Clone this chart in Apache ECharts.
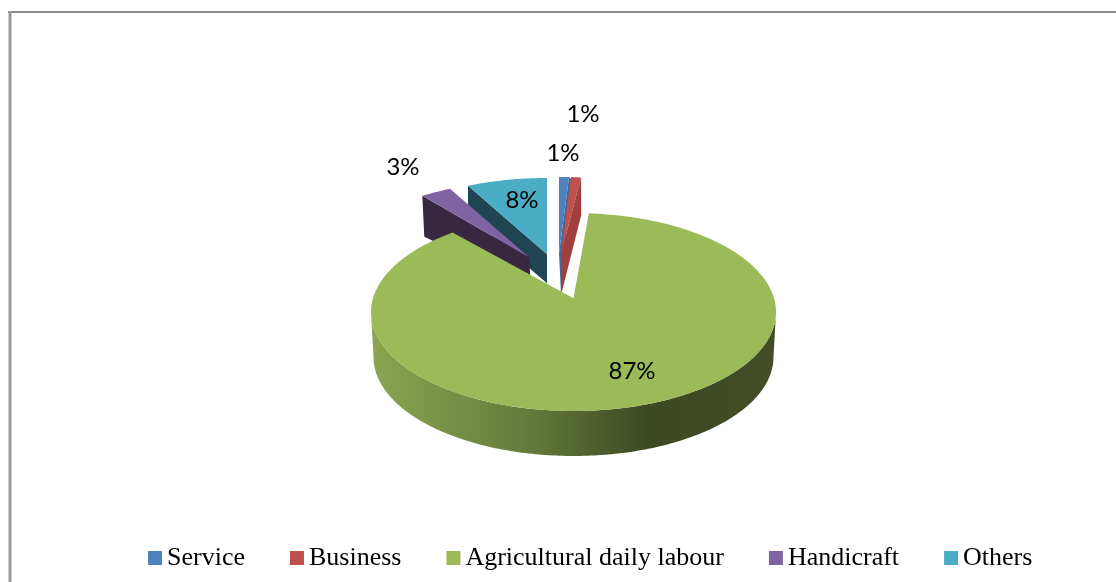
<!DOCTYPE html>
<html>
<head>
<meta charset="utf-8">
<style>html,body{margin:0;padding:0;background:#fff}#chart{width:1116px;height:582px}</style>
<script src="https://cdn.jsdelivr.net/npm/echarts@6/dist/echarts.min.js"></script>
</head>
<body>
<div id="chart"></div>
<script>
// Occupation shares, in percent
const categories = ['Service', 'Business', 'Agricultural daily labour', 'Handicraft', 'Others'];
const shares = [1, 1, 87, 3, 8];
const colors = ['#4f81bd', '#c0504d', '#9bbb59', '#8064a2', '#4bacc6'];

// Pose of each exploded wedge in the tilted view.
const RX = 202.5, RY = 99;
const poses = {
  Service:  { cx: 559, cy: 276, lean: 0.23, turn: 0, faceEdge: 'end', faceFill: '#3f6a9e', rimDepth: 2, apexDepth: 41, shift: 2, labelX: 563, labelY: 153 },
  Business: { cx: 561, cy: 276, lean: 0.23, turn: 0, faceEdge: 'end', faceFill: '#a03f3d', rimDepth: 38, apexDepth: 42, shift: 0, labelX: 583, labelY: 114 },
  'Agricultural daily labour': { cx: 573.5, cy: 312, lean: 0.14, turn: -2.2, labelX: 632, labelY: 371 },
  Handicraft: { cx: 529, cy: 280, lean: 0.23, turn: 0, faceEdge: 'start', faceFill: '#372841', rimDepth: 41, apexDepth: 30, shift: 2, labelX: 403, labelY: 167 },
  Others:   { cx: 547, cy: 277, lean: 0.23, turn: 0, faceEdge: 'start', faceFill: '#1f4552', rimDepth: 30, apexDepth: 29, shift: 0, labelX: 522, labelY: 200 }
};

// Projects a point of the unit disc onto the tilted ellipse; the disc centre lands at `lean`.
function project(pose, deg, radius) {
  const t = deg * Math.PI / 180;
  const u = radius * Math.sin(t), v = radius * Math.cos(t);
  const k = 1 + pose.lean * v;
  const nu = u * Math.sqrt(1 - pose.lean * pose.lean) / k;
  const nv = (v + pose.lean) / k;
  return [pose.cx + RX * nu, pose.cy - RY * nv];
}

function wedgeAngles(index, value) {
  let before = 0;
  for (let i = 0; i < index; i++) before += shares[i];
  const total = shares.reduce((a, b) => a + b, 0);
  return [before / total * 360, (before + value) / total * 360];
}

function renderWedge(index) {
  return function (params, api) {
    const value = api.value(0);
    const name = categories[index];
    const pose = poses[name];
    const [a0, a1] = wedgeAngles(index, value).map(a => a + pose.turn);
    const apex = project(pose, 0, 0);
    const rim = [];
    for (let a = a0; a < a1; a += 1) rim.push(project(pose, a, 1));
    rim.push(project(pose, a1, 1));
    const children = [];

    // Wall below the round edge of the large wedge
    if (name === 'Agricultural daily labour') {
      const upper = [], lower = [];
      for (let a = 90; a <= 270; a += 1) {
        const t = a * Math.PI / 180;
        upper.push([pose.cx + RX * Math.sin(t), pose.cy - RY * Math.cos(t)]);
        lower.push([pose.cx + 200 * Math.sin(t), 357 - RY * Math.cos(t)]);
      }
      children.push({
        type: 'polygon',
        shape: { points: upper.concat(lower.reverse()) },
        style: {
          fill: new echarts.graphic.LinearGradient(0, 0, 1, 0, [
            { offset: 0, color: '#8ba551' },
            { offset: 0.38, color: '#667c3b' },
            { offset: 0.68, color: '#3d4922' },
            { offset: 1, color: '#434d26' }
          ])
        }
      });
    }

    // Cut face along one straight edge of a small wedge
    if (pose.faceEdge) {
      const edge = pose.faceEdge === 'start' ? rim[0] : rim[rim.length - 1];
      children.push({
        type: 'polygon',
        shape: {
          points: [
            edge,
            [edge[0] + pose.shift, edge[1] + pose.rimDepth],
            [apex[0] + pose.shift, apex[1] + pose.apexDepth],
            apex
          ]
        },
        style: { fill: pose.faceFill }
      });
    }

    // Top surface
    children.push({
      type: 'polygon',
      shape: { points: [apex].concat(rim) },
      style: { fill: colors[index] }
    });

    // Value label
    children.push({
      type: 'text',
      style: {
        text: value + '%',
        x: pose.labelX,
        y: pose.labelY,
        align: 'center',
        verticalAlign: 'middle',
        fill: '#000',
        font: '24px Lato'
      }
    });
    return { type: 'group', children };
  };
}

// Back wedges go first so the large wedge overlaps them.
const drawOrder = [4, 3, 0, 1, 2];
const series = drawOrder.map(i => ({
  type: 'custom',
  name: categories[i],
  coordinateSystem: 'none',
  silent: true,
  z: drawOrder.indexOf(i) + 2,
  itemStyle: { color: colors[i] },
  data: [[shares[i]]],
  renderItem: renderWedge(i)
}));

const chart = echarts.init(document.getElementById('chart'), null, { renderer: 'canvas' });
chart.setOption({
  animation: false,
  backgroundColor: '#fff',
  legend: {
    data: categories,
    top: 545,
    left: 148,
    padding: 0,
    icon: 'rect',
    itemWidth: 14,
    itemHeight: 14,
    itemGap: 45,
    selectedMode: false,
    textStyle: { fontFamily: 'Liberation Serif', fontSize: 26, color: '#000' }
  },
  graphic: [
    { type: 'line', shape: { x1: 8, y1: 12, x2: 1116, y2: 12 }, style: { stroke: '#8a8a8a', lineWidth: 2 } },
    { type: 'line', shape: { x1: 10, y1: 11, x2: 10, y2: 582 }, style: { stroke: '#9a9a9a', lineWidth: 3 } }
  ],
  series
});
</script>
</body>
</html>
